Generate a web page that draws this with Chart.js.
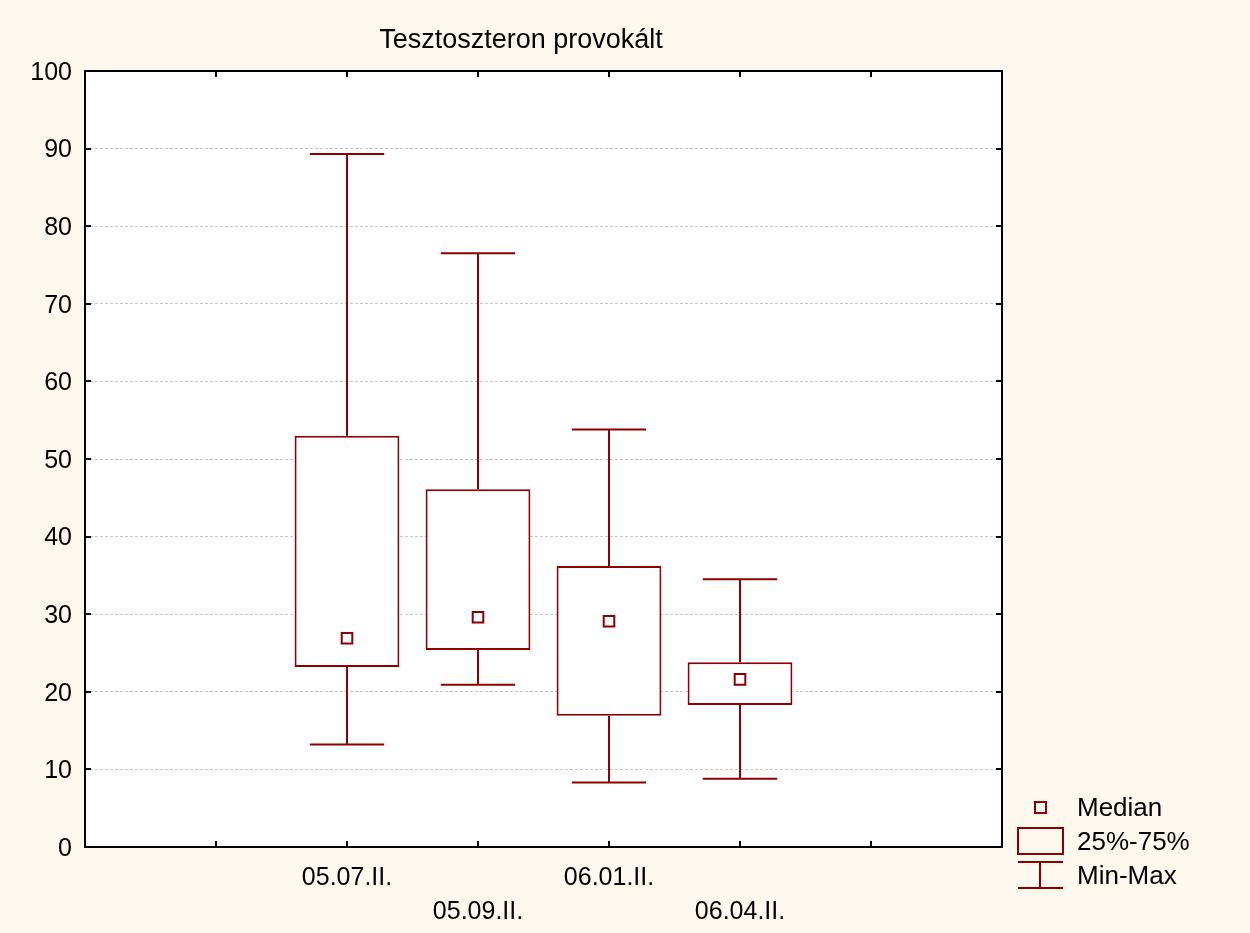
<!DOCTYPE html>
<html>
<head>
<meta charset="utf-8">
<script src="https://cdn.jsdelivr.net/npm/chart.js@4.4.1/dist/chart.umd.min.js"></script>
<style>
    html, body { margin: 0; padding: 0; background: #FDF8EE; }
    #wrap { width: 1250px; height: 933px; }
</style>
</head>
<body>
<div id="wrap"><canvas id="myChart" width="1250" height="933"></canvas></div>
<script>
    // values
    var chartTitle = 'Tesztoszteron provokált';
    var categories = ['05.07.II.', '05.09.II.', '06.01.II.', '06.04.II.'];
    var minValues = [13.2, 20.9, 8.3, 8.8];
    var q1Values = [23.2, 25.4, 16.9, 18.3];
    var medianValues = [26.9, 29.6, 29.1, 21.6];
    var q3Values = [53.0, 46.1, 36.2, 23.8];
    var maxValues = [89.3, 76.5, 53.8, 34.5];
    var legendLabels = ['Median', '25%-75%', 'Min-Max'];
    var yMin = 0, yMax = 100, yStep = 10;

    // x axis: 7 slots, boxes sit on slots 2..5
    var xMin = 0, xMax = 7, firstSlot = 2;
    var capHalf = 0.284;
    var darkRed = '#8B0000';
    var fontFamily = '"Liberation Sans", Arial, sans-serif';

    Chart.defaults.font.family = fontFamily;
    Chart.defaults.color = '#000';

    function slotOf(i) {
        return firstSlot + i;
    }

    var boxData = categories.map(function (c, i) {
        return { x: slotOf(i), y: [q1Values[i], q3Values[i]] };
    });
    var medianData = categories.map(function (c, i) {
        return { x: slotOf(i), y: medianValues[i] };
    });
    var whiskerData = [];
    categories.forEach(function (c, i) {
        var x = slotOf(i);
        whiskerData.push({ x: x, y: maxValues[i] }, { x: x, y: q3Values[i] }, { x: x, y: null });
        whiskerData.push({ x: x, y: q1Values[i] }, { x: x, y: minValues[i] }, { x: x, y: null });
        whiskerData.push({ x: x - capHalf, y: maxValues[i] }, { x: x + capHalf, y: maxValues[i] }, { x: x, y: null });
        whiskerData.push({ x: x - capHalf, y: minValues[i] }, { x: x + capHalf, y: minValues[i] }, { x: x, y: null });
    });

    var framePlugin = {
        id: 'frame',
        beforeDraw: function (chart) {
            var ctx = chart.ctx, a = chart.chartArea;
            ctx.save();
            ctx.fillStyle = '#FDF8EE';
            ctx.fillRect(0, 0, chart.width, chart.height);
            ctx.fillStyle = '#FFFFFF';
            ctx.fillRect(a.left, a.top, a.right - a.left, a.bottom - a.top);
            ctx.restore();
        },
        afterDraw: function (chart) {
            var ctx = chart.ctx, a = chart.chartArea;
            var xs = chart.scales.x, ys = chart.scales.y;
            ctx.save();
            ctx.strokeStyle = '#000';
            ctx.lineWidth = 2;
            ctx.strokeRect(a.left, a.top, a.right - a.left, a.bottom - a.top);
            // inward tick marks
            ctx.beginPath();
            for (var v = xMin + 1; v < xMax; v++) {
                var px = Math.round(xs.getPixelForValue(v));
                ctx.moveTo(px, a.bottom); ctx.lineTo(px, a.bottom - 6);
                ctx.moveTo(px, a.top); ctx.lineTo(px, a.top + 6);
            }
            for (var t = yMin + yStep; t < yMax; t += yStep) {
                var py = Math.round(ys.getPixelForValue(t));
                ctx.moveTo(a.left, py); ctx.lineTo(a.left + 6, py);
                ctx.moveTo(a.right, py); ctx.lineTo(a.right - 6, py);
            }
            ctx.stroke();

            // title
            ctx.fillStyle = '#000';
            ctx.font = '27px ' + fontFamily;
            ctx.textAlign = 'center';
            ctx.textBaseline = 'alphabetic';
            ctx.fillText(chartTitle, (ys.left + a.right) / 2 + 5, 48);

            // legend
            var lx = a.right + 16, ly = a.bottom - 40, row = 34;
            ctx.strokeStyle = darkRed;
            ctx.lineWidth = 2;
            ctx.strokeRect(lx + 17, ly - 5, 11, 11);
            ctx.strokeRect(lx, ly + row - 13, 45, 26);
            ctx.beginPath();
            ctx.moveTo(lx, ly + 2 * row - 13); ctx.lineTo(lx + 45, ly + 2 * row - 13);
            ctx.moveTo(lx + 22, ly + 2 * row - 13); ctx.lineTo(lx + 22, ly + 2 * row + 13);
            ctx.moveTo(lx, ly + 2 * row + 13); ctx.lineTo(lx + 45, ly + 2 * row + 13);
            ctx.stroke();
            ctx.fillStyle = '#000';
            ctx.font = '26px ' + fontFamily;
            ctx.textAlign = 'left';
            ctx.textBaseline = 'middle';
            legendLabels.forEach(function (lbl, i) {
                ctx.fillText(lbl, lx + 59, ly + i * row + 2);
            });
            ctx.restore();
        }
    };

    var canvas = document.getElementById('myChart');
    var ctx = canvas.getContext('2d');
    var myChart = new Chart(ctx, {
        type: 'bar',
        data: {
            datasets: [{
                type: 'line',
                label: legendLabels[0],
                data: medianData,
                showLine: false,
                pointStyle: 'rect',
                pointRadius: 7.5,
                pointBorderWidth: 2,
                pointBorderColor: darkRed,
                pointBackgroundColor: '#FFFFFF',
                order: 0
            }, {
                type: 'bar',
                label: legendLabels[1],
                data: boxData,
                backgroundColor: '#FFFFFF',
                borderColor: darkRed,
                borderWidth: 2,
                borderSkipped: false,
                categoryPercentage: 1,
                barPercentage: 0.8,
                order: 1
            }, {
                type: 'line',
                label: legendLabels[2],
                data: whiskerData,
                borderColor: darkRed,
                borderWidth: 2,
                pointRadius: 0,
                spanGaps: false,
                fill: false,
                order: 2
            }]
        },
        options: {
            responsive: false,
            animation: false,
            devicePixelRatio: 1,
            layout: {
                padding: { left: 30, right: 248, top: 71, bottom: 0 }
            },
            plugins: {
                legend: { display: false },
                title: { display: false },
                tooltip: { enabled: false }
            },
            scales: {
                x: {
                    type: 'linear',
                    min: xMin,
                    max: xMax,
                    offset: false,
                    afterFit: function (s) { s.height = 86; },
                    grid: { display: false, drawTicks: false },
                    border: { display: false },
                    ticks: {
                        stepSize: 1,
                        padding: 14,
                        autoSkip: false,
                        maxRotation: 0,
                        font: { size: 25, lineHeight: 1.36 },
                        callback: function (v) {
                            var i = v - firstSlot;
                            if (i < 0 || i >= categories.length) return '';
                            return i % 2 === 0 ? [categories[i]] : ['', categories[i]];
                        }
                    }
                },
                y: {
                    min: yMin,
                    max: yMax,
                    afterFit: function (s) { s.width = 55; },
                    grid: { color: '#C8C8C8', lineWidth: 1, drawTicks: false },
                    border: { display: false, dash: [3, 2] },
                    ticks: {
                        stepSize: yStep,
                        padding: 13,
                        labelOffset: 2,
                        font: { size: 25 }
                    }
                }
            }
        },
        plugins: [framePlugin]
    });
</script>
</body>
</html>
